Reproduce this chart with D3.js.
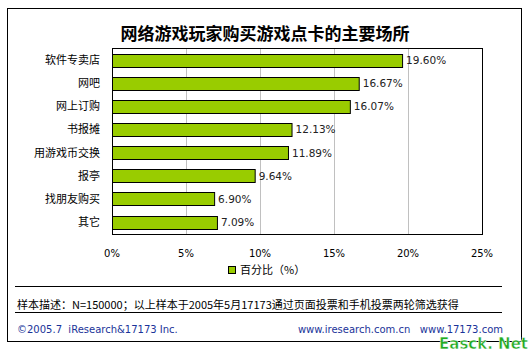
<!DOCTYPE html>
<html>
<head>
<meta charset="utf-8">
<script src="https://cdnjs.cloudflare.com/ajax/libs/d3/7.8.5/d3.min.js"></script>
<style>
  body { margin: 0; background: #fff; }
  svg text { font-family: "Noto Sans CJK SC", sans-serif; white-space: pre; }
</style>
</head>
<body>
<div id="chart"></div>
<script>
// data
var categories = ["软件专卖店", "网吧", "网上订购", "书报摊", "用游戏币交换", "报亭", "找朋友购买", "其它"];
var values = [19.60, 16.67, 16.07, 12.13, 11.89, 9.64, 6.90, 7.09];
var ticks = [0, 5, 10, 15, 20, 25];

var W = 531, H = 355;
var margin = {top: 48, left: 112, right: 49, bottom: 121};

var svg = d3.select("#chart")
    .append("svg")
    .attr("width", W)
    .attr("height", H);

// outer frame
svg.append("rect")
    .attr("x", 7.5).attr("y", 8.5)
    .attr("width", 514).attr("height", 333)
    .style("fill", "#fff")
    .style("stroke", "#000");

svg.append("text")
    .attr("x", 265).attr("y", 40)
    .attr("text-anchor", "middle")
    .attr("font-size", "17px")
    .attr("font-weight", "bold")
    .text("网络游戏玩家购买游戏点卡的主要场所");

var x = d3.scaleLinear()
    .domain([0, 25])
    .range([margin.left, W - margin.right]);

var y = d3.scaleBand()
    .domain(categories)
    .range([margin.top, H - margin.bottom])
    .paddingInner(0.45)
    .paddingOuter(0.25);

// grid
svg.selectAll("line.grid")
    .data(ticks.slice(1, -1))
    .enter()
    .append("line")
      .attr("x1", function(d){ return x(d) + 0.5; })
      .attr("x2", function(d){ return x(d) + 0.5; })
      .attr("y1", margin.top)
      .attr("y2", H - margin.bottom)
      .style("stroke", "#c0c0c0");

svg.selectAll("rect.bar")
    .data(values)
    .enter()
    .append("rect")
      .attr("class", "bar")
      .attr("x", x(0) + 0.5)
      .attr("y", function(d, i){ return Math.round(y(categories[i])) + 0.5; })
      .attr("width", function(d){ return x(d) - x(0); })
      .attr("height", Math.round(y.bandwidth()))
      .style("fill", "#99cc00")
      .style("stroke", "#000");

// plot frame
svg.append("rect")
    .attr("x", margin.left + 0.5).attr("y", margin.top + 0.5)
    .attr("width", x(25) - x(0)).attr("height", H - margin.bottom - margin.top)
    .style("fill", "none")
    .style("stroke", "#000");

svg.selectAll("text.val")
    .data(values)
    .enter()
    .append("text")
      .attr("x", function(d){ return x(d) + 4; })
      .attr("y", function(d, i){ return y(categories[i]) + y.bandwidth() / 2 + 4; })
      .attr("font-size", "10.5px")
      .style("font-family", "DejaVu Sans")
      .style("fill", "#222")
      .text(function(d){ return d.toFixed(2) + "%"; });

svg.selectAll("text.cat")
    .data(categories)
    .enter()
    .append("text")
      .attr("x", 100)
      .attr("y", function(d){ return y(d) + y.bandwidth() / 2 + 4; })
      .attr("text-anchor", "end")
      .attr("font-size", "11px")
      .text(function(d){ return d; });

svg.selectAll("text.tick")
    .data(ticks)
    .enter()
    .append("text")
      .attr("x", function(d){ return x(d); })
      .attr("y", 257)
      .attr("text-anchor", "middle")
      .attr("font-size", "10px")
      .style("font-family", "DejaVu Sans")
      .text(function(d){ return d + "%"; });

// legend
svg.append("rect")
    .attr("x", 228.5).attr("y", 266.5)
    .attr("width", 7).attr("height", 7)
    .style("fill", "#99cc00")
    .style("stroke", "#000");
svg.append("text")
    .attr("x", 240).attr("y", 274)
    .attr("font-size", "11px")
    .text("百分比（%）");

svg.append("line")
    .attr("x1", 15).attr("x2", 502)
    .attr("y1", 286.5).attr("y2", 286.5)
    .style("stroke", "#000");
svg.append("text")
    .attr("x", 17).attr("y", 309)
    .attr("font-size", "11px")
    .text("样本描述：N=150000；以上样本于2005年5月17173通过页面投票和手机投票两轮筛选获得");
svg.append("line")
    .attr("x1", 15).attr("x2", 502)
    .attr("y1", 312.5).attr("y2", 312.5)
    .style("stroke", "#000");

svg.append("text")
    .attr("x", 17).attr("y", 333)
    .attr("font-size", "10px")
    .style("font-family", "DejaVu Sans")
    .style("fill", "#1a3399")
    .text("©2005.7  iResearch&17173 Inc.");
svg.append("text")
    .attr("x", 503).attr("y", 333)
    .attr("text-anchor", "end")
    .attr("font-size", "10px")
    .style("font-family", "DejaVu Sans")
    .style("fill", "#1a3399")
    .text("www.iresearch.com.cn   www.17173.com");

// watermark
svg.append("text")
    .attr("x", 528).attr("y", 349)
    .attr("text-anchor", "end")
    .attr("font-size", "15px")
    .attr("font-weight", "bold")
    .style("font-family", "DejaVu Sans")
    .style("fill", "#22aa22")
    .style("stroke", "#fff")
    .style("stroke-width", 0.5)
    .text("Easck. Net");
</script>
</body>
</html>
